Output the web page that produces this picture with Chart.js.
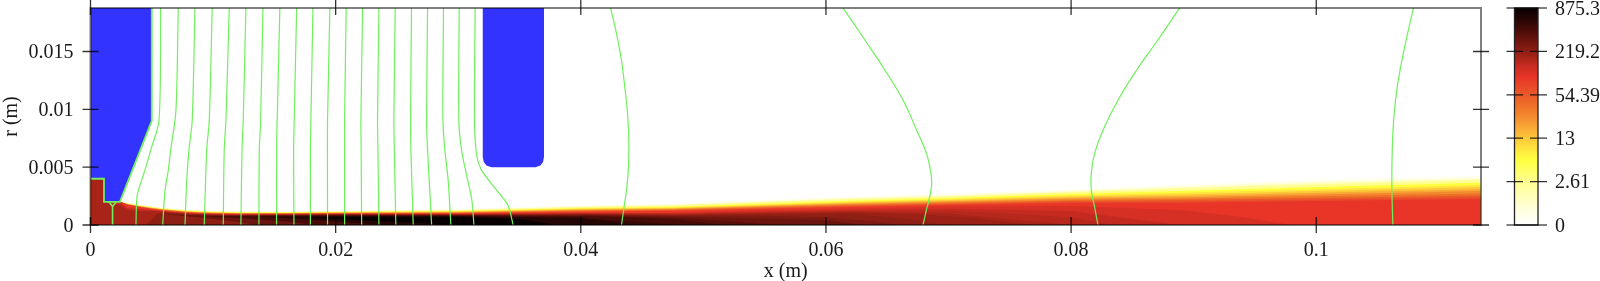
<!DOCTYPE html>
<html>
<head>
<meta charset="utf-8">
<script src="https://cdn.jsdelivr.net/npm/chart.js@4/dist/chart.umd.min.js"></script>
<style>
  html, body { margin: 0; padding: 0; background: #fff; overflow: hidden; }
  canvas { position: absolute; top: 0; }
  #field { left: 0; }
  #bar { left: 1490px; }
</style>
</head>
<body>
<canvas id="field" width="1600" height="281"></canvas>
<canvas id="bar" width="110" height="281"></canvas>
<script>
  // axes
  const xTicks = [0, 0.02, 0.04, 0.06, 0.08, 0.1];
  const rTicks = [0, 0.005, 0.01, 0.015];
  const barLabels = ['0', '2.61', '13', '54.39', '219.2', '875.3'];

  // colour scale, position along the bar and colour
  const barPos = [0, 0.08, 0.2, 0.3, 0.35, 0.4, 0.45, 0.5, 0.55, 0.6, 0.68, 0.71, 0.74, 0.755, 0.77, 0.785, 0.8, 0.825, 0.85, 0.875, 0.9, 0.925, 0.95, 1];
  const barColors = ['#ffffff', '#ffffd8', '#ffff90', '#ffff40', '#ffe53e', '#fcc83a', '#f8a835', '#f48a30', '#ef7028', '#ea5a28', '#e83528', '#d63024', '#c42a20', '#b6271c', '#a82418', '#9b2116', '#8e1f15', '#7d1a12', '#6c150e', '#5a100a', '#480c08', '#360906', '#240604', '#080000'];

  // plasma contours, x in m, r in mm
  const plasmaX = [0, 0.0011, 0.00111, 0.0024, 0.003, 0.004, 0.005, 0.006, 0.008, 0.01, 0.012, 0.016, 0.02, 0.03, 0.04, 0.0475, 0.062, 0.07, 0.08, 0.0889, 0.1, 0.1134];
  const levelPale = [4, 4, 2, 2, 1.92, 1.76, 1.61, 1.50, 1.32, 1.24, 1.19, 1.17, 1.24, 1.38, 1.69, 1.84, 2.46, 2.70, 3.10, 3.50, 3.92, 4.27];
  const levelA = [4, 4, 2, 2, 1.90, 1.74, 1.59, 1.47, 1.29, 1.21, 1.16, 1.14, 1.21, 1.34, 1.64, 1.78, 2.37, 2.59, 2.97, 3.36, 3.75, 4.09];
  const levelA2 = [4, 4, 2, 2, 1.88, 1.72, 1.57, 1.44, 1.27, 1.18, 1.14, 1.12, 1.18, 1.30, 1.59, 1.73, 2.30, 2.52, 2.90, 3.25, 3.63, 3.98];
  const levelB = [4, 4, 2, 2, 1.87, 1.71, 1.55, 1.42, 1.25, 1.16, 1.12, 1.10, 1.16, 1.27, 1.55, 1.69, 2.24, 2.46, 2.83, 3.15, 3.51, 3.88];
  const levelC = [4, 4, 2, 2, 1.84, 1.67, 1.52, 1.38, 1.21, 1.12, 1.08, 1.07, 1.12, 1.21, 1.47, 1.58, 2.09, 2.34, 2.67, 2.93, 3.28, 3.65];
  const levelD = [4, 4, 2, 2, 1.83, 1.65, 1.50, 1.36, 1.18, 1.10, 1.05, 1.05, 1.10, 1.18, 1.42, 1.52, 2.01, 2.25, 2.56, 2.78, 3.10, 3.46];
  const levelE = [4, 4, 2, 2, 1.82, 1.64, 1.48, 1.34, 1.16, 1.08, 1.03, 1.03, 1.08, 1.15, 1.38, 1.47, 1.94, 2.17, 2.46, 2.63, 2.93, 3.28];
  const levelF = [4, 4, 2, 2, 1.80, 1.62, 1.47, 1.33, 1.14, 1.05, 1.02, 1.02, 1.05, 1.12, 1.33, 1.42, 1.87, 2.08, 2.36, 2.50, 2.78, 3.10];
  const levelG = [4, 4, 2, 2, 1.79, 1.60, 1.45, 1.31, 1.12, 1.03, 1.01, 1.01, 1.03, 1.09, 1.29, 1.38, 1.81, 2.00, 2.26, 2.37, 2.63, 2.93];
  const levelH = [4, 4, 2, 2, 1.78, 1.58, 1.43, 1.30, 1.10, 1.01, 1.00, 1.00, 1.02, 1.06, 1.25, 1.33, 1.75, 1.93, 2.17, 2.26, 2.48, 2.73];
  const levelI = [4, 4, 2, 2, 1.77, 1.57, 1.41, 1.28, 1.09, 1.00, 0.98, 0.98, 1.01, 1.03, 1.21, 1.29, 1.68, 1.85, 2.07, 2.16, 2.33, 2.54];
  const levelI2 = [4, 4, 2, 2, 1.75, 1.55, 1.39, 1.26, 1.07, 0.98, 0.96, 0.96, 0.99, 1.01, 1.16, 1.25, 1.61, 1.78, 1.98, 2.03, 2.20, 2.39];
  const levelJ = [4, 4, 2, 2, 1.74, 1.53, 1.38, 1.24, 1.05, 0.97, 0.95, 0.95, 0.97, 0.99, 1.12, 1.21, 1.55, 1.72, 1.90, 1.90, 2.07, 2.24];
  const levelK = [4, 4, 2, 2, 1.47, 1.38, 1.29, 1.19, 1.01, 0.92, 0.91, 0.91, 0.95, 0.95, 1.03, 1.03, 1.29, 1.40, 1.20, 0, 0, 0];
  const levelL = [4, 4, 2, 1.7, 1.3, 1.2, 1.2, 1.14, 0.98, 0.9, 0.88, 0.9, 0.93, 0.93, 1.0, 0.95, 1.15, 1.0, 0, 0, 0, 0];

  // in-between layers of the far field, with their own x positions
  const fadeAX = [0.05, 0.062, 0.07, 0.08, 0.0889, 0.094, 0.098];
  const fadeAR = [1.15, 1.42, 1.6, 1.64, 1.3, 0.7, 0];
  const fadeBX = [0.05, 0.062, 0.07, 0.075, 0.08, 0.0835];
  const fadeBR = [1.0, 1.2, 1.2, 1.0, 0.65, 0];
  const fadeCX = [0.05, 0.062, 0.068, 0.072, 0.077];
  const fadeCR = [0.9, 1.07, 0.9, 0.6, 0];
  const fadeDX = [0.04, 0.0475, 0.055, 0.06, 0.064, 0.066];
  const fadeDR = [0.9, 0.8, 0.8, 0.65, 0.3, 0];
  const fadeEX = [0.04, 0.0475, 0.052, 0.056];
  const fadeER = [0.82, 0.62, 0.35, 0];
  const fadeFX = [0.038, 0.0447, 0.048];
  const fadeFR = [0.7, 0.3, 0];

  // darker core
  const coreMX = [0.0045, 0.0055, 0.006, 0.008, 0.01, 0.012, 0.016, 0.02, 0.03, 0.04, 0.0475, 0.062, 0.066, 0.07];
  const coreMR = [0, 1.0, 1.10, 0.95, 0.88, 0.86, 0.88, 0.91, 0.91, 0.95, 0.86, 0.95, 0.6, 0];
  const coreNX = [0.0061, 0.0062, 0.008, 0.01, 0.012, 0.016, 0.02, 0.03, 0.04, 0.0475, 0.06, 0.063];
  const coreNR = [0, 0.95, 0.86, 0.82, 0.82, 0.84, 0.88, 0.86, 0.86, 0.73, 0.43, 0];
  const coreOX = [0.0094, 0.0095, 0.012, 0.016, 0.02, 0.03, 0.04, 0.0475, 0.052];
  const coreOR = [0, 0.73, 0.78, 0.80, 0.84, 0.82, 0.78, 0.52, 0];
  const corePX = [0.0134, 0.0135, 0.016, 0.02, 0.03, 0.04, 0.0447];
  const corePR = [0, 0.72, 0.73, 0.78, 0.78, 0.60, 0];
  const coreQX = [0.0179, 0.018, 0.02, 0.03, 0.035, 0.038];
  const coreQR = [0, 0.65, 0.69, 0.69, 0.52, 0];

  // lighter layers next to the axis, under the off-axis peak
  const axisPX = [0.018, 0.02, 0.024, 0.03];
  const axisPR = [0.65, 0.52, 0.30, 0];
  const axisOX = [0.0135, 0.016, 0.02, 0.024];
  const axisOR = [0.72, 0.60, 0.30, 0];
  const axisNX = [0.0095, 0.012, 0.016, 0.0185];
  const axisNR = [0.73, 0.60, 0.30, 0];
  const axisMX = [0.0061, 0.008, 0.01, 0.012, 0.0135];
  const axisMR = [0.95, 0.73, 0.52, 0.26, 0];

  // electrodes, mm
  const cathodeX = [0, 5, 5, 2.4, 1.1, 1.1, 0];
  const cathodeR = [18.8, 18.8, 9, 2, 2, 4, 4];
  const anodeX = [32, 32, 32.08, 32.3, 32.7, 36.3, 36.7, 36.92, 37, 37];
  const anodeR = [18.8, 5.9, 5.45, 5.15, 5, 5, 5.15, 5.45, 5.9, 18.8];

  // green contour lines, mm
  const wallX = [0, 1.1, 1.1, 2.4, 5, 5];
  const wallR = [4, 4, 2, 2, 9, 18.8];
  const forkX = [1.5, 1.8, 1.8, 1.8, 2.1];
  const forkR = [2, 1.6, 0, 1.6, 2];
  const nearR = [0, 6.47, 9.05, 18.8];
  const bentR = [0, 3.88, 6.47, 9.05, 18.8];
  const lines = [
    { x: [3.71, 3.79, 4.04, 4.44, 4.91, 5.59, 5.72], r: [0, 2.41, 3.45, 4.74, 6.47, 9.05, 18.8] },
    { x: [5.89, 6.08, 6.35, 6.54, 6.97, 7.16], r: [0, 3.02, 4.74, 6.47, 9.91, 18.8] },
    { x: [7.71, 7.85, 8.03, 8.30, 8.52], r: bentR },
    { x: [9.28, 9.48, 9.69, 9.93], r: nearR },
    { x: [10.83, 10.91, 11.05, 11.32], r: nearR },
    { x: [12.27, 12.36, 12.46, 12.68], r: nearR },
    { x: [13.74, 13.77, 13.88, 14.07], r: nearR },
    { x: [15.18, 15.18, 15.23, 15.45], r: nearR },
    { x: [16.60, 16.57, 16.62, 16.82], r: nearR },
    { x: [17.94, 17.94, 17.98, 18.15], r: nearR },
    { x: [19.34, 19.33, 19.34, 19.53], r: nearR },
    { x: [20.73, 20.73, 20.73, 20.86], r: nearR },
    { x: [22.12, 22.08, 22.06, 22.20], r: nearR },
    { x: [23.53, 23.45, 23.42, 23.53], r: nearR },
    { x: [24.91, 24.79, 24.75, 24.86], r: nearR },
    { x: [26.33, 26.14, 26.11, 26.19], r: nearR },
    { x: [27.83, 27.63, 27.50, 27.42, 27.50], r: bentR },
    { x: [29.40, 29.18, 28.91, 28.75, 28.80], r: bentR },
    { x: [31.28, 31.11, 30.68, 30.27, 30.05, 30.08], r: [0, 2.16, 4.31, 6.47, 9.05, 18.8] },
    { x: [34.48, 34.05, 33.13, 31.90, 31.50, 31.33, 31.38], r: [0, 1.72, 3.02, 4.74, 6.03, 9.05, 18.8] }
  ];
  const farLines = [
    { x: [43.32, 43.53, 43.73, 43.89, 43.92, 43.81, 43.59, 43.32, 42.91, 42.42], r: [0, 1.55, 3.02, 5, 7.33, 9.66, 11.9, 14.22, 16.55, 18.8] },
    { x: [67.92, 68.19, 68.46, 68.63, 68.52, 68.19, 67.4, 66.3, 64.83, 63.30, 61.37], r: [0, 1.29, 2.41, 3.62, 4.74, 6.21, 8.19, 10.78, 13.36, 15.8, 18.8] },
    { x: [82.19, 81.92, 81.65, 81.65, 81.92, 82.60, 83.82, 85.32, 86.95, 88.88], r: [0, 1.55, 3.02, 4.48, 6.21, 8.19, 10.78, 13.36, 15.8, 18.8] },
    { x: [106.25, 106.17, 106.20, 106.33, 106.65, 107.2, 107.94], r: [0, 3.28, 6.47, 9.31, 12.24, 15.34, 18.8] }
  ];

  const font = { family: '"Liberation Serif", serif', size: 20 };
  const textColor = '#1a1a1a';
  const green = '#6ff05c';
  const blue = '#3333ff';

  function pts(xs, rs, xUnit) {
    return xs.map((v, i) => ({ x: v * xUnit, y: rs[i] / 1000 }));
  }

  // painted back to front, so a later entry covers an earlier one
  let sets = [];
  function band(xs, rs, color) {
    sets.push({ data: pts(xs, rs, 1), showLine: true, borderWidth: 0, pointRadius: 0, fill: 'origin', backgroundColor: color });
  }
  function contour(xs, rs, width, tension) {
    sets.push({ data: pts(xs, rs, 0.001), showLine: true, pointRadius: 0, fill: false, borderColor: green, borderWidth: width, tension: tension });
  }

  band(plasmaX, levelPale, '#fffff0');
  band(plasmaX, levelA, barColors[1]);
  band(plasmaX, levelA2, '#ffffb8');
  band(plasmaX, levelB, barColors[2]);
  band(plasmaX, levelC, barColors[3]);
  band(plasmaX, levelD, barColors[4]);
  band(plasmaX, levelE, barColors[5]);
  band(plasmaX, levelF, barColors[6]);
  band(plasmaX, levelG, barColors[7]);
  band(plasmaX, levelH, barColors[8]);
  band(plasmaX, levelI, barColors[9]);
  band(plasmaX, levelI2, '#e9472a');
  band(plasmaX, levelJ, barColors[10]);
  band(fadeAX, fadeAR, barColors[11]);
  band(plasmaX, levelK, barColors[12]);
  band(fadeBX, fadeBR, barColors[13]);
  band(plasmaX, levelL, barColors[14]);
  band(fadeCX, fadeCR, barColors[15]);
  band(coreMX, coreMR, barColors[16]);
  band(fadeDX, fadeDR, barColors[17]);
  band(coreNX, coreNR, barColors[18]);
  band(fadeEX, fadeER, barColors[19]);
  band(coreOX, coreOR, barColors[20]);
  band(fadeFX, fadeFR, barColors[21]);
  band(corePX, corePR, barColors[22]);
  band(coreQX, coreQR, barColors[23]);
  band(axisPX, axisPR, barColors[22]);
  band(axisOX, axisOR, barColors[20]);
  band(axisNX, axisNR, barColors[18]);
  band(axisMX, axisMR, barColors[16]);

  [[cathodeX, cathodeR], [anodeX, anodeR]].forEach(p => {
    sets.push({ data: pts(p[0], p[1], 0.001), showLine: true, borderWidth: 0, pointRadius: 0, fill: 'shape', backgroundColor: blue });
  });

  contour(wallX, wallR, 1.8, 0);
  contour(forkX, forkR, 1.6, 0);
  lines.forEach(l => contour(l.x, l.r, 1.2, 0.3));
  farLines.forEach(l => contour(l.x, l.r, 1.2, 0.45));
  sets.forEach((s, i) => { s.order = -i; });

  const tickLine = 'rgba(0,0,0,0.8)';
  const frameLine = 'rgba(0,0,0,0.5)';

  // ticks go both in and out of the frame, on all four sides
  const frame = {
    id: 'frame',
    afterDraw(chart) {
      const c = chart.ctx, a = chart.chartArea;
      c.save();
      c.strokeStyle = tickLine;
      c.lineWidth = 1.3;
      c.beginPath();
      xTicks.forEach(v => {
        const p = chart.scales.x.getPixelForValue(v);
        c.moveTo(p, a.top - 8); c.lineTo(p, a.top + 7);
        c.moveTo(p, a.bottom - 8); c.lineTo(p, a.bottom + 8);
      });
      rTicks.forEach(v => {
        const p = chart.scales.y.getPixelForValue(v);
        c.moveTo(a.left - 8, p); c.lineTo(a.left + 8, p);
        c.moveTo(a.right - 8, p); c.lineTo(a.right + 8, p);
      });
      c.stroke();
      c.strokeStyle = frameLine;
      c.lineWidth = 2;
      c.strokeRect(a.left, a.top, a.right - a.left, a.bottom - a.top);
      c.restore();
    }
  };

  function noOverhang(s) {
    s.paddingTop = 0; s.paddingBottom = 0; s.paddingLeft = 0; s.paddingRight = 0;
  }

  new Chart(document.getElementById('field'), {
    type: 'scatter',
    data: { datasets: sets },
    plugins: [frame],
    options: {
      responsive: false,
      animation: false,
      layout: { padding: { top: 8, right: 119, left: 0, bottom: 0 } },
      plugins: { legend: { display: false }, tooltip: { enabled: false } },
      scales: {
        x: {
          type: 'linear', min: 0, max: 0.11344,
          grid: { display: false, drawTicks: false },
          border: { display: false },
          afterBuildTicks: s => { s.ticks = xTicks.map(v => ({ value: v })); },
          afterFit: s => { s.height = 56; noOverhang(s); },
          ticks: { font: font, color: textColor, padding: 14, maxRotation: 0, callback: v => String(v) },
          title: { display: true, text: 'x (m)', font: font, color: textColor, padding: { top: 0, bottom: -3 } }
        },
        y: {
          type: 'linear', min: 0, max: 0.01876,
          grid: { display: false, drawTicks: false },
          border: { display: false },
          afterBuildTicks: s => { s.ticks = rTicks.map(v => ({ value: v })); },
          afterFit: s => { s.width = 90.5; noOverhang(s); },
          ticks: { font: font, color: textColor, padding: 17, labelOffset: 1.5, callback: v => String(v) },
          title: { display: true, text: 'r (m)', font: font, color: textColor, padding: { top: 0, bottom: 0 } }
        }
      }
    }
  });

  // colour bar
  const barTicks = {
    id: 'barTicks',
    afterDraw(chart) {
      const c = chart.ctx, a = chart.chartArea, s = chart.scales.y;
      c.save();
      c.strokeStyle = '#222';
      c.lineWidth = 1.3;
      c.strokeRect(a.left, a.top, a.right - a.left, a.bottom - a.top);
      barLabels.forEach((l, i) => {
        const p = s.getPixelForValue(i);
        c.beginPath();
        if (i === 0 || i === barLabels.length - 1) {
          c.strokeStyle = frameLine; c.lineWidth = 2;
          c.moveTo(a.left - 8, p); c.lineTo(a.right + 9, p);
        } else {
          c.strokeStyle = tickLine; c.lineWidth = 1.3;
          c.moveTo(a.left - 8, p); c.lineTo(a.left + 8.5, p);
          c.moveTo(a.right - 8, p); c.lineTo(a.right + 9, p);
        }
        c.stroke();
      });
      c.restore();
    }
  };

  new Chart(document.getElementById('bar'), {
    type: 'bar',
    data: {
      labels: [''],
      datasets: [{
        data: [[0, barLabels.length - 1]],
        categoryPercentage: 1,
        barPercentage: 1,
        backgroundColor: ctx => {
          const a = ctx.chart.chartArea;
          if (!a) return '#fff';
          const g = ctx.chart.ctx.createLinearGradient(0, a.bottom, 0, a.top);
          barPos.forEach((p, i) => g.addColorStop(p, barColors[i]));
          return g;
        }
      }]
    },
    plugins: [barTicks],
    options: {
      responsive: false,
      animation: false,
      layout: { padding: { top: 8, bottom: 56, left: 24.5, right: 0 } },
      plugins: { legend: { display: false }, tooltip: { enabled: false } },
      scales: {
        x: { display: false },
        y: {
          position: 'right', type: 'linear', min: 0, max: barLabels.length - 1,
          grid: { display: false, drawTicks: false },
          border: { display: false },
          afterFit: s => { s.width = 62; noOverhang(s); },
          ticks: { stepSize: 1, font: font, color: textColor, padding: 17, labelOffset: 1.5, callback: v => barLabels[v] }
        }
      }
    }
  });
</script>
</body>
</html>
